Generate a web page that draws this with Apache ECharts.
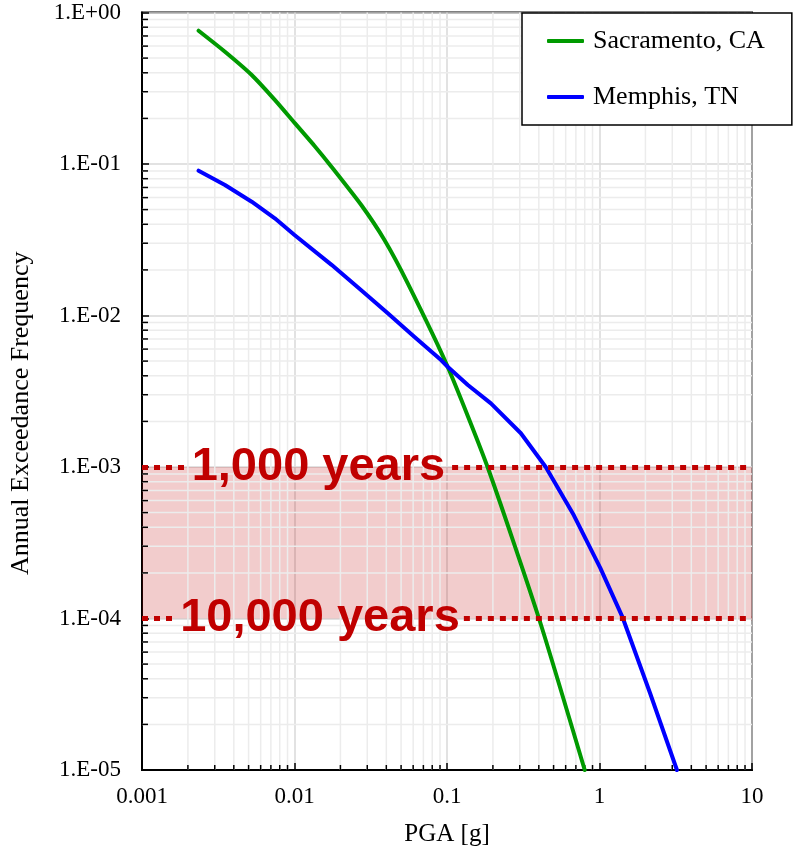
<!DOCTYPE html>
<html>
<head>
<meta charset="utf-8">
<script src="https://cdn.jsdelivr.net/npm/echarts@6/dist/echarts.min.js"></script>
<style>
html,body{margin:0;padding:0;background:#fff;}
#chart{width:795px;height:853px;}
</style>
</head>
<body>
<div id="chart"></div>
<script>
// ---- data ----
const seriesNames = ['Sacramento, CA', 'Memphis, TN'];
const sacramentoPGA = [0.00235, 0.0035, 0.00524, 0.00743, 0.01005, 0.01358, 0.01747, 0.0274, 0.0389, 0.0553, 0.101, 0.1845, 0.401, 0.80];
const sacramentoAEF = [0.758, 0.551, 0.387, 0.265, 0.186, 0.131, 0.096, 0.0536, 0.0315, 0.0163, 0.00459, 1.0e-3, 1.0e-4, 1.0e-5];
const memphisPGA = [0.00235, 0.0035, 0.00524, 0.00743, 0.01, 0.0175, 0.0274, 0.0409, 0.061, 0.0914, 0.101, 0.137, 0.194, 0.305, 0.444, 0.679, 1.015, 1.41, 2.15, 3.22];
const memphisAEF = [0.0903, 0.0727, 0.0564, 0.0438, 0.034, 0.0216, 0.0147, 0.01033, 0.00725, 0.00508, 0.00459, 0.00348, 0.00263, 0.00167, 1.0e-3, 4.8e-4, 2.14e-4, 1.03e-4, 3.2e-5, 1.0e-5];
const returnPeriods = [1000, 10000];
const labelPGA = [0.01435, 0.01469];
const gapStartPGA = [0.00202, 0.00169];
const gapEndPGA = [0.108, 0.129];
const xTickLabels = ['0.001', '0.01', '0.1', '1', '10'];
const yTickLabels = ['1.E-05', '1.E-04', '1.E-03', '1.E-02', '1.E-01', '1.E+00'];
const xMin = 0.001, xMax = 10, yMin = 1e-5, yMax = 1;

// ---- helpers ----
const zip = (a, b) => a.map((v, i) => [v, b[i]]);
const withCommas = n => String(n).replace(/\B(?=(\d{3})+(?!\d))/g, ',');
const minorValues = (e0, e1) => {
  const out = [];
  for (let e = e0; e < e1; e++) for (let k = 2; k <= 9; k++) out.push(k * Math.pow(10, e));
  return out;
};
const minorX = minorValues(-3, 1);
const minorY = minorValues(-5, 0);

const serif = '"Liberation Serif", "Times New Roman", serif';
const sans = '"Liberation Sans", Arial, sans-serif';
const red = '#c00000';

const chart = echarts.init(document.getElementById('chart'), null, {renderer: 'canvas'});

const minorGridSeries = (values, dir) => ({
  type: 'custom',
  silent: true,
  z: 1,
  clip: false,
  data: values.map(v => dir === 'x' ? [v, 0.1] : [0.1, v]),
  renderItem: function (params, api) {
    const cs = params.coordSys;
    const children = [];
    if (dir === 'x') {
      const x = api.coord([api.value(0), 0.1])[0];
      children.push({type: 'line', shape: {x1: x, y1: cs.y, x2: x, y2: cs.y + cs.height},
        style: {stroke: '#ececec', lineWidth: 1.5}});
      children.push({type: 'line', z2: 5, shape: {x1: x, y1: cs.y + cs.height, x2: x, y2: cs.y + cs.height - 5},
        style: {stroke: '#000', lineWidth: 1.5}});
    } else {
      const y = api.coord([0.1, api.value(1)])[1];
      children.push({type: 'line', shape: {x1: cs.x, y1: y, x2: cs.x + cs.width, y2: y},
        style: {stroke: '#ececec', lineWidth: 1.5}});
      children.push({type: 'line', z2: 5, shape: {x1: cs.x, y1: y, x2: cs.x + 6, y2: y},
        style: {stroke: '#000', lineWidth: 1.5}});
    }
    return {type: 'group', children: children};
  }
});

const dotLines = [];
returnPeriods.forEach((T, i) => {
  const y = 1 / T;
  dotLines.push([{coord: [xMin, y]}, {coord: [gapStartPGA[i], y]}]);
  dotLines.push([{coord: [gapEndPGA[i], y]}, {coord: [xMax, y]}]);
});

const option = {
  backgroundColor: '#fff',
  animation: false,
  grid: {left: 140, top: 12.5, right: 43, bottom: 83, show: true, borderColor: '#000', borderWidth: 2, backgroundColor: 'transparent'},
  legend: {
    data: seriesNames,
    orient: 'vertical',
    left: 522, top: 13,
    padding: [13, 27, 13, 25],
    itemGap: 26,
    itemWidth: 37,
    itemHeight: 4,
    icon: 'roundRect',
    backgroundColor: '#fff',
    borderColor: '#000',
    borderWidth: 1.5,
    borderRadius: 0,
    z: 20,
    textStyle: {fontFamily: serif, fontSize: 26, color: '#000', lineHeight: 30, padding: [0, 0, 0, 4]}
  },
  xAxis: {
    type: 'log', logBase: 10, min: xMin, max: xMax,
    name: 'PGA [g]', nameLocation: 'middle', nameGap: 52,
    nameTextStyle: {fontFamily: serif, fontSize: 25, color: '#000'},
    axisLine: {show: true, lineStyle: {color: '#000', width: 2}},
    axisTick: {show: true, inside: true, length: 7, lineStyle: {color: '#000', width: 1.5}},
    axisLabel: {fontFamily: serif, fontSize: 23, color: '#000', margin: 15,
      formatter: v => xTickLabels[Math.round(Math.log10(v)) + 3]},
    splitLine: {show: true, lineStyle: {color: '#d9d9d9', width: 1.5}},
    minorTick: {show: false}, minorSplitLine: {show: false}
  },
  yAxis: {
    type: 'log', logBase: 10, min: yMin, max: yMax,
    name: 'Annual Exceedance Frequency', nameLocation: 'middle', nameGap: 108,
    nameTextStyle: {fontFamily: serif, fontSize: 26, color: '#000', padding: [0, 44, 0, 0]},
    axisLine: {show: true, lineStyle: {color: '#000', width: 2}},
    axisTick: {show: true, inside: true, length: 7, lineStyle: {color: '#000', width: 1.5}},
    axisLabel: {fontFamily: serif, fontSize: 23, color: '#000', margin: 21,
      formatter: v => yTickLabels[Math.round(Math.log10(v)) + 5]},
    splitLine: {show: true, lineStyle: {color: '#d9d9d9', width: 1.5}},
    minorTick: {show: false}, minorSplitLine: {show: false}
  },
  series: [
    minorGridSeries(minorX, 'x'),
    minorGridSeries(minorY, 'y'),
    {
      name: seriesNames[0], type: 'line', z: 3, showSymbol: false, symbol: 'none',
      color: '#009a00', smooth: 0.2,
      lineStyle: {width: 4, color: '#009a00', cap: 'round', join: 'round'},
      data: zip(sacramentoPGA, sacramentoAEF)
    },
    {
      name: seriesNames[1], type: 'line', z: 3, showSymbol: false, symbol: 'none',
      color: '#0000ff',
      lineStyle: {width: 4, color: '#0000ff', cap: 'round', join: 'round'},
      data: zip(memphisPGA, memphisAEF)
    },
    {
      name: 'band', type: 'line', z: 5, data: [], silent: true,
      markArea: {
        silent: true,
        itemStyle: {color: 'rgba(192,0,0,0.2)'},
        data: [[{yAxis: 1 / returnPeriods[0]}, {yAxis: 1 / returnPeriods[1]}]]
      },
      markLine: {
        silent: true, symbol: ['none', 'none'],
        label: {show: false},
        lineStyle: {color: red, width: 5, type: [6, 6], cap: 'butt', opacity: 1},
        data: dotLines
      }
    },
    {
      name: 'labels', type: 'custom', z: 6, silent: true, clip: false,
      data: returnPeriods.map((T, i) => [labelPGA[i], 1 / T]),
      renderItem: function (params, api) {
        const p = api.coord([api.value(0), api.value(1)]);
        return {
          type: 'text',
          x: p[0], y: p[1],
          style: {
            text: withCommas(returnPeriods[params.dataIndex]) + ' years',
            fill: red, opacity: 1,
            font: 'bold 47px ' + sans,
            align: 'center', verticalAlign: 'middle'
          }
        };
      }
    }
  ]
};
chart.setOption(option);
</script>
</body>
</html>
